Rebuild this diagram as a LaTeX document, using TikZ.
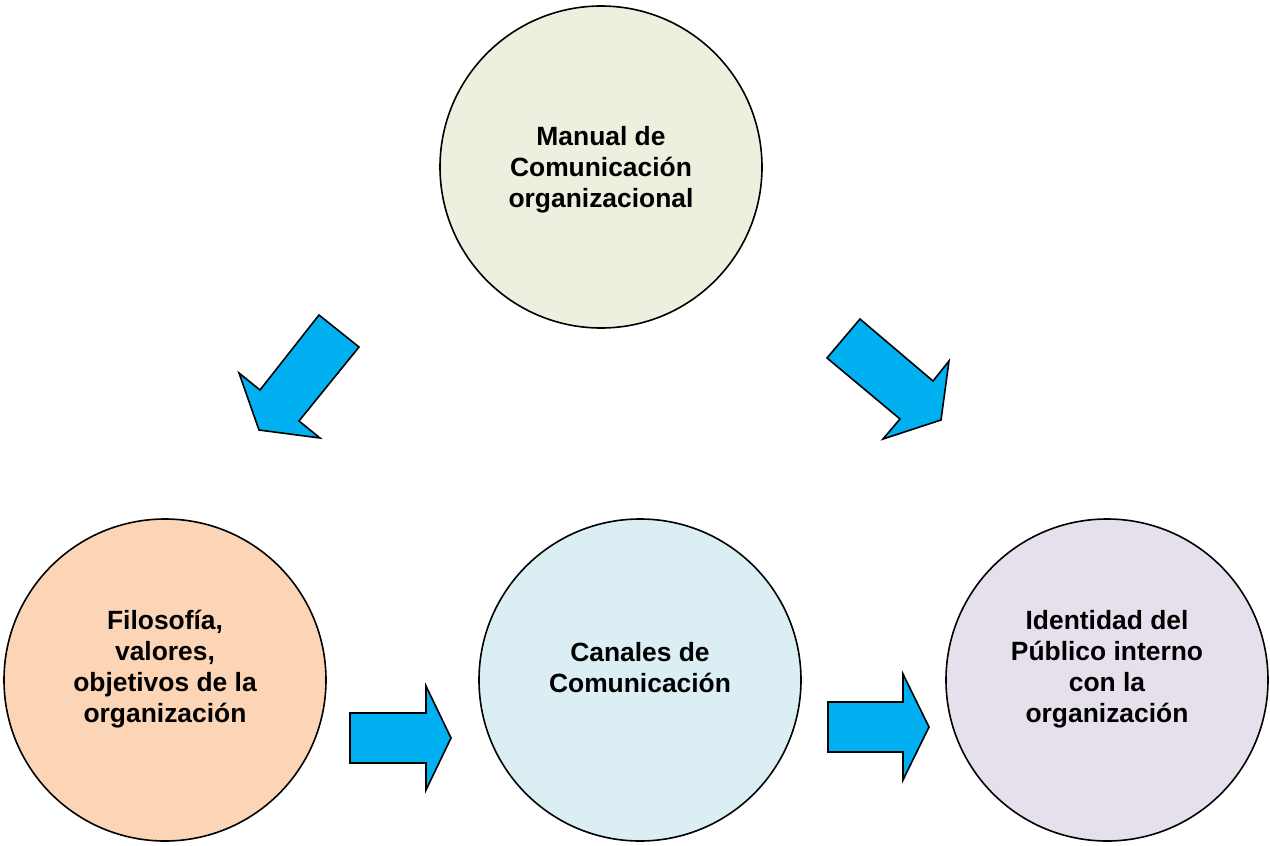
\documentclass[tikz,border=0pt]{standalone}
\usepackage{fontspec}
\setmainfont{Liberation Sans}
\definecolor{cgreen}{HTML}{EBF1DE}
\definecolor{cpeach}{HTML}{FBD5B5}
\definecolor{cblue}{HTML}{DBEEF4}
\definecolor{cpurple}{HTML}{E5E0EC}
\definecolor{carrow}{HTML}{00B0F0}
\begin{document}
\begin{tikzpicture}[x=1pt,y=-1pt,
  bubble/.style={circle,draw=black,line width=1.6pt,minimum size=322pt,inner sep=0pt},
  label/.style={align=center,font=\fontsize{26.4}{31}\selectfont\bfseries},
  blockarrow/.style={fill=carrow,draw=black,line width=1.6pt,line join=miter}]
\useasboundingbox (0,0) rectangle (1270,846);
\node[bubble,fill=cgreen] (top) at (601,167) {};
\node[bubble,fill=cpeach] (left) at (165,680) {};
\node[bubble,fill=cblue] (mid) at (640,680) {};
\node[bubble,fill=cpurple] (right) at (1107,680) {};
\node[label] (ttop) at (601,170) {Manual de\\Comunicación\\organizacional};
\node[label] (tleft) at (165,669) {Filosofía,\\valores,\\objetivos de la\\organización};
\node[label] (tmid) at (640,668) {Canales de\\Comunicación};
\node[label] (tright) at (1107,669) {Identidad del\\Público interno\\con la\\organización};
% arrows
\draw[blockarrow] (319,315) -- (359,347) -- (299,421) -- (320,438) -- (259,430) -- (239,373) -- (260,390) -- cycle;
\draw[blockarrow] (860,319) -- (827,358) -- (900,419) -- (883,439) -- (941,420) -- (949,361) -- (933,381) -- cycle;
\draw[blockarrow] (350,713) -- (426,713) -- (426,686) -- (451,738) -- (426,790) -- (426,763) -- (350,763) -- cycle;
\draw[blockarrow] (828,702) -- (903,702) -- (903,674) -- (929,727) -- (903,780) -- (903,752) -- (828,752) -- cycle;
\end{tikzpicture}
\end{document}
